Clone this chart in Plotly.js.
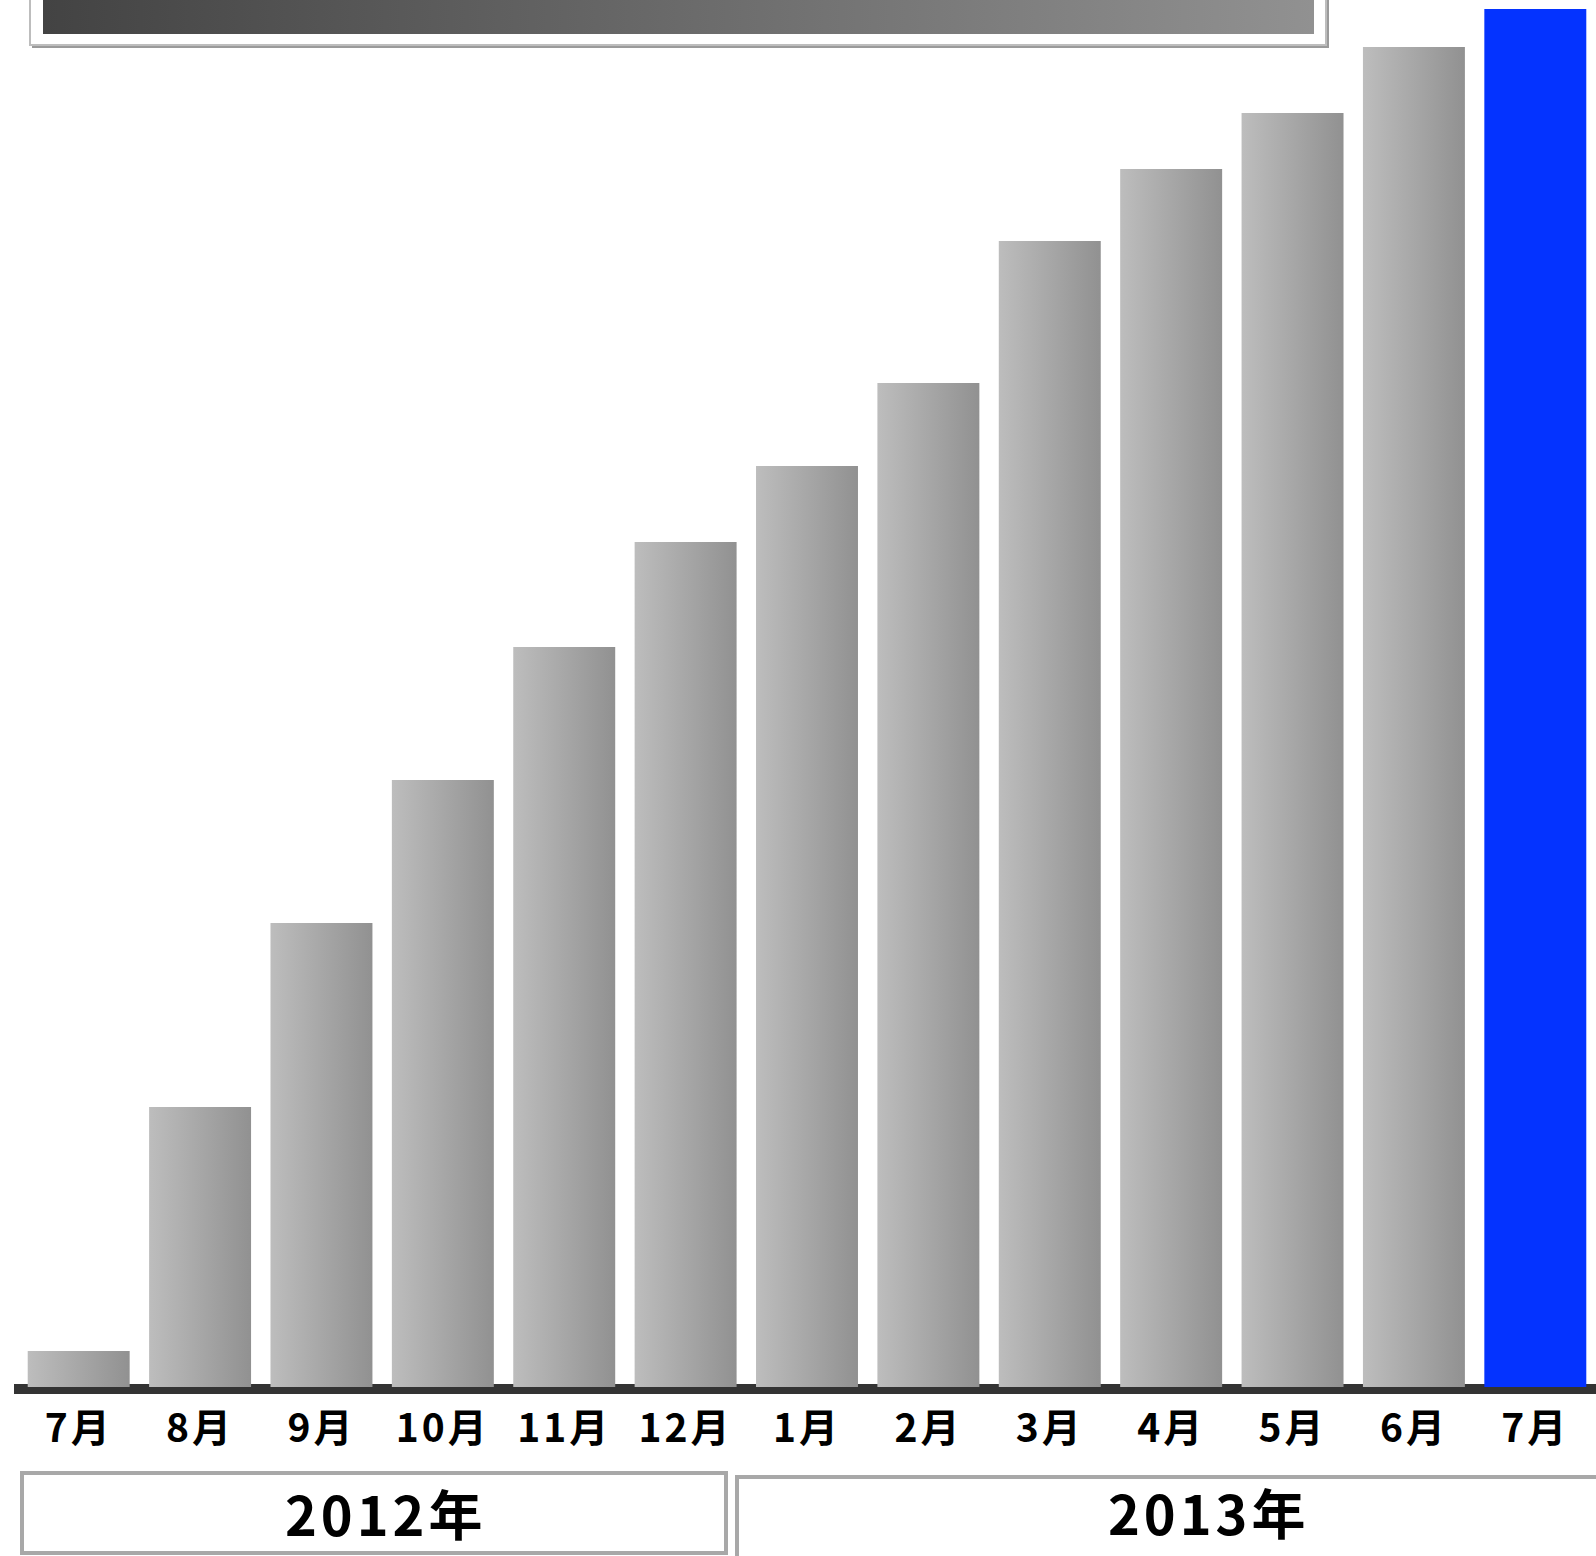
<!DOCTYPE html>
<html><head><meta charset="utf-8">
<script src="https://cdn.plot.ly/plotly-3.0.1.min.js"></script>
<style>html,body{margin:0;padding:0;background:#fff;overflow:hidden;}</style>
</head><body><div id="chart" style="width:1596px;height:1556px;"></div>
<script>
// Data
const months = ['7月','8月','9月','10月','11月','12月','1月','2月','3月','4月','5月','6月','7月'];
const values = [36, 280, 464, 607, 740, 845, 921, 1004, 1146, 1218, 1274, 1340, 1378];
const years = ['2012年', '2013年'];
const highlightIndex = 12;

const W = 1596, H = 1556;
const M = {l: 18, r: 0, t: 8, b: 169};
const PW = W - M.l - M.r, PH = H - M.t - M.b;
const xp = px => (px - M.l) / PW;
const yp = py => (H - M.b - py) / PH;

const GRAY_PH = '#aaaaaa';
const BLUE = '#0433ff';
const idx = months.map((_, i) => i);
const colors = months.map((_, i) => i === highlightIndex ? BLUE : GRAY_PH);

const data = [{
  type: 'bar',
  x: idx,
  y: values,
  marker: {color: colors, line: {width: 0}},
  hoverinfo: 'skip'
}];

const font = '"Noto Sans CJK JP", "Noto Sans", sans-serif';

function rect(x0, x1, y0, y1, fill, line, layer) {
  return {type: 'rect', xref: 'paper', yref: 'paper',
    x0: xp(x0), x1: xp(x1), y0: yp(y1), y1: yp(y0),
    fillcolor: fill, line: line || {width: 0}, layer: layer || 'above'};
}

const shapes = [
  // title box (cut off at top)
  rect(32, 1329, -30, 48, '#9a9a9a'),
  rect(30, 1326, -30, 45, '#ffffff', {color: '#bdbdbd', width: 2}),
  rect(43, 1314, -30, 34, 'rgb(1,2,3)'),
  // base line
  {type: 'line', xref: 'paper', yref: 'paper', x0: xp(14), x1: xp(1600), y0: yp(1389), y1: yp(1389),
   line: {color: '#333333', width: 10}, layer: 'below'},
  // year boxes
  rect(22, 726, 1473, 1553, 'rgba(0,0,0,0)', {color: '#a8a8a8', width: 4}),
  rect(737, 1700, 1477, 1700, 'rgba(0,0,0,0)', {color: '#a8a8a8', width: 4})
];

const annotations = [
  {text: years[0], xref: 'paper', yref: 'paper', x: xp(385), y: yp(1512), showarrow: false,
   xanchor: 'center', yanchor: 'middle', font: {family: font, size: 54, color: '#000', weight: 700}},
  {text: years[1], xref: 'paper', yref: 'paper', x: xp(1208), y: yp(1511), showarrow: false,
   xanchor: 'center', yanchor: 'middle', font: {family: font, size: 54, color: '#000', weight: 700}}
];

const layout = {
  width: W, height: H,
  margin: M,
  paper_bgcolor: '#ffffff', plot_bgcolor: '#ffffff',
  showlegend: false,
  bargap: 0.16,
  xaxis: {
    range: [-0.5, months.length - 0.5],
    tickmode: 'array', tickvals: idx, ticktext: months,
    showgrid: false, zeroline: false, showline: false, ticks: '',
    tickfont: {family: font, size: 39, color: '#000', weight: 700},
    ticklabelstandoff: 15,
    fixedrange: true
  },
  yaxis: {
    range: [0, 1379], visible: false, showgrid: false, zeroline: false, fixedrange: true
  },
  shapes: shapes,
  annotations: annotations
};

Plotly.newPlot('chart', data, layout, {staticPlot: true, displayModeBar: false}).then(gd => {
  const ns = 'http://www.w3.org/2000/svg';
  const svg = gd.querySelector('svg.main-svg');
  let defs = svg.querySelector('defs');
  if (!defs) { defs = document.createElementNS(ns, 'defs'); svg.insertBefore(defs, svg.firstChild); }
  function addGrad(id, stops, vertical) {
    const g = document.createElementNS(ns, 'linearGradient');
    g.setAttribute('id', id);
    g.setAttribute('x1', '0'); g.setAttribute('x2', vertical ? '0' : '1');
    g.setAttribute('y1', '0'); g.setAttribute('y2', vertical ? '1' : '0');
    stops.forEach(([o, c]) => {
      const s = document.createElementNS(ns, 'stop');
      s.setAttribute('offset', o); s.setAttribute('stop-color', c);
      g.appendChild(s);
    });
    defs.appendChild(g);
  }
  addGrad('barGrad', [[0, '#bdbdbd'], [1, '#919191']]);
  addGrad('titleGrad', [[0, '#434343'], [1, '#919191']]);
  gd.querySelectorAll('.bars .point path').forEach(p => {
    if (p.style.fill.replace(/\s/g, '') === 'rgb(170,170,170)') p.style.fill = 'url(#barGrad)';
  });
  gd.querySelectorAll('.shapelayer path').forEach(p => {
    if (p.style.fill.replace(/\s/g, '') === 'rgb(1,2,3)') p.style.fill = 'url(#titleGrad)';
  });
  gd.querySelectorAll('.xtick text').forEach(t => { t.style.letterSpacing = '3px'; });
  gd.querySelectorAll('.annotation-text').forEach(t => { t.style.letterSpacing = '4px'; });
});
</script>
</body></html>
